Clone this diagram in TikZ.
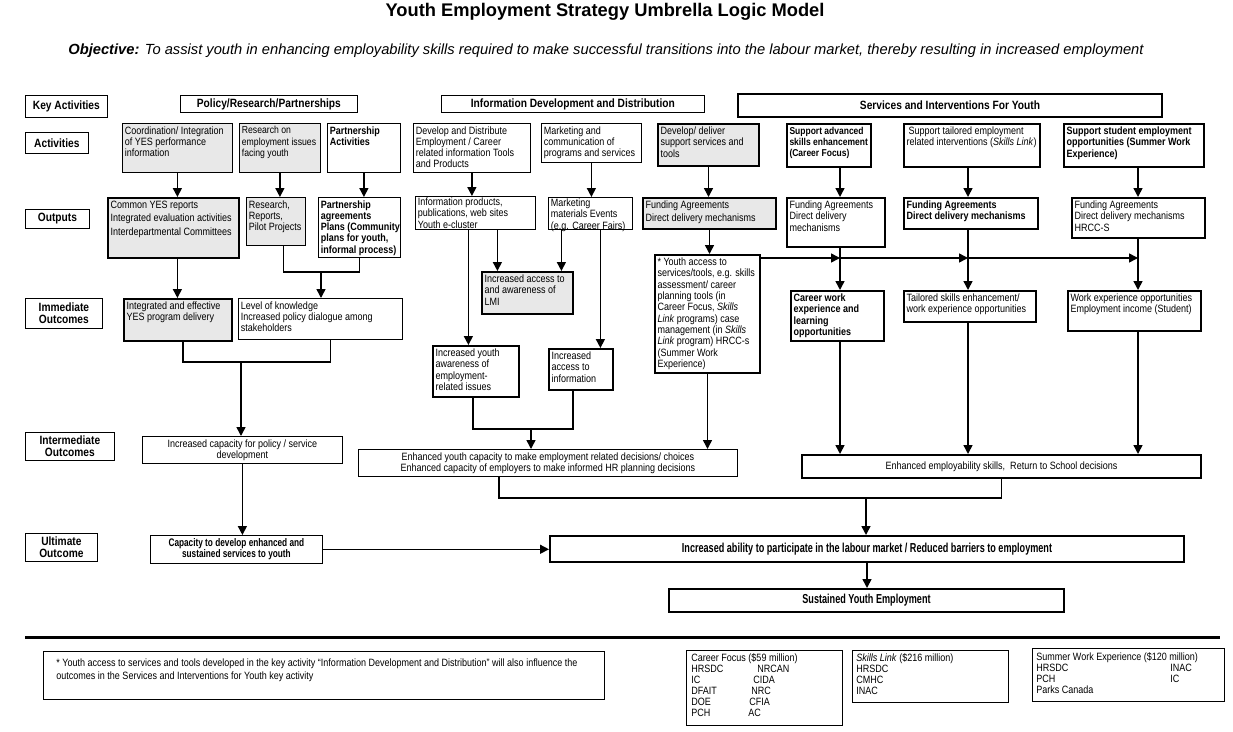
\documentclass[tikz,border=0pt]{standalone}
\usepackage{fontspec}
\setmainfont{Liberation Sans}[FakeStretch=0.85]
\newfontfamily\plainsans{Liberation Sans}
\newfontfamily\narrowsans{Liberation Sans}[FakeStretch=0.7]
\newfontfamily\semisans{Liberation Sans}[FakeStretch=0.75]
\usetikzlibrary{arrows.meta,calc,positioning}
\definecolor{boxgray}{gray}{0.91}

\begin{document}
\begin{tikzpicture}[x=1pt, y=-1pt,
    box/.style={draw, line width=0.8pt, anchor=north west, inner xsep=2.5pt, inner ysep=3pt, font=\fontsize{10.6}{11.3}\selectfont},
    tbox/.style={box, line width=2pt},
    bold/.style={font=\fontsize{10.6}{11.3}\selectfont\bfseries},
    greyfill/.style={fill=boxgray},
    sz/.style 2 args={execute at begin node={\hbox to \dimexpr#1pt-\pgfkeysvalueof{/pgf/inner xsep}*2\relax\bgroup
        \begin{minipage}[t][\dimexpr#2pt-\pgfkeysvalueof{/pgf/inner ysep}*2\relax][t]{\dimexpr#1pt+60pt\relax}\raggedright},
      execute at end node={\endgraf\end{minipage}\hss\egroup}},
    cz/.style 2 args={minimum width=#1pt, minimum height=#2pt, align=center},
    lbl/.style={box, inner sep=1pt, font=\fontsize{12}{12.5}\selectfont\bfseries, align=left},
    hdr/.style={box, inner sep=1pt, font=\fontsize{12}{13}\selectfont\bfseries},
    ln/.style={line width=1.5pt},
    arr/.style={ln, -{Triangle[width=9pt,length=9pt]}}]
  \useasboundingbox (0,0) rectangle (1233,731);

  % title and objective
  \node[font=\plainsans\fontsize{18.3}{20}\selectfont\bfseries] (title) at (605,12) {Youth Employment Strategy Umbrella Logic Model};
  \node[font=\plainsans\fontsize{14.7}{16}\selectfont\itshape] (objective) at (606,51)
    {\textbf{Objective:} To assist youth in enhancing employability skills required to make successful transitions into the labour market, thereby resulting in increased employment};

  % row labels
  \node[lbl, cz={82}{22}] (keyact) at (25,95) {Key Activities};
  \node[lbl, cz={63}{21}] (actlbl) at (25,132) {Activities};
  \node[lbl, cz={64}{19}] (outlbl) at (25,209) {Outputs};
  \node[lbl, cz={77}{30}] (immlbl) at (25,298) {Immediate\\Outcomes};
  \node[lbl, cz={89}{28}] (intlbl) at (25,432) {Intermediate\\Outcomes};
  \node[lbl, cz={72}{28}] (ultlbl) at (25,533) {Ultimate\\Outcome};

  % key activities
  \node[hdr, cz={177}{17}] (hpolicy) at (180,95) {Policy/Research/Partnerships};
  \node[hdr, cz={263}{17}] (hinfo) at (441,95) {Information Development and Distribution};
  \node[hdr, cz={424}{23}, line width=2pt] (hserv) at (737,93) {Services and Interventions For Youth};

  % activities
  \node[box, greyfill, sz={110}{49}] (coord) at (122,123) {Coordination/ Integration\\of YES performance\\information};
  \node[box, greyfill, sz={81}{49}, font=\fontsize{10.2}{11.3}\selectfont] (research) at (239,123) {Research on\\employment issues\\facing youth};
  \node[box, bold, sz={73}{49}] (partner) at (327,123) {Partnership\\Activities};
  \node[box, sz={117}{49}] (devdist) at (413,123) {Develop and Distribute\\Employment / Career\\related information Tools\\and Products};
  \node[box, sz={100}{39}] (marketing) at (541,123) {Marketing and\\communication of\\programs and services};
  \node[tbox, greyfill, sz={101}{42}] (deliver) at (657,123) {Develop/ deliver\\support services and\\tools};
  \node[tbox, sz={84}{43}, font=\fontsize{10}{11.3}\selectfont\bfseries] (careerfoc) at (786,123) {Support advanced\\skills enhancement\\(Career Focus)};
  \node[tbox, sz={136}{43}] (tailored) at (903,123) {\hspace*{2pt}Support tailored employment\\related interventions (\textit{Skills Link})};
  \node[tbox, bold, sz={140}{43}] (student) at (1063,123) {Support student employment\\opportunities (Summer Work\\Experience)};

  % outputs
  \node[tbox, greyfill, sz={131}{60}] (yesrep) at (107,197) {Common YES reports\\[2pt]Integrated evaluation activities\\[2pt]Interdepartmental Committees};
  \node[box, greyfill, sz={59}{48}] (resrep) at (246,197) {Research,\\Reports,\\Pilot Projects};
  \node[box, bold, sz={82}{60}] (partagr) at (318,197) {Partnership\\agreements\\Plans (Community\\plans for youth,\\informal process)};
  \node[box, sz={120}{33}, inner ysep=1.5pt] (infoprod) at (415,196) {Information products,\\publications, web sites\\Youth e-cluster};
  \node[box, sz={84}{32}, inner ysep=1.5pt] (mktmat) at (548,197) {Marketing\\materials Events\\(e.g. Career Fairs)};
  \node[tbox, greyfill, sz={133}{31}] (fund1) at (642,197) {Funding Agreements\\[2pt]Direct delivery mechanisms};
  \node[tbox, sz={98}{49}] (fund2) at (786,197) {Funding Agreements\\Direct delivery\\mechanisms};
  \node[tbox, bold, sz={134}{31}] (fund3) at (903,197) {Funding Agreements\\Direct delivery mechanisms};
  \node[tbox, sz={133}{40}] (fund4) at (1071,197) {Funding Agreements\\Direct delivery mechanisms\\HRCC-S};

  % immediate outcomes
  \node[tbox, greyfill, sz={108}{42}] (integr) at (123,298) {Integrated and effective\\YES program delivery};
  \node[box, sz={164}{41}] (level) at (238,298) {Level of knowledge\\Increased policy dialogue among\\stakeholders};
  \node[tbox, greyfill, sz={91}{42}] (lmi) at (481,271) {Increased access to\\and awareness of\\LMI};
  \node[tbox, sz={86}{51}] (aware) at (432,345) {Increased youth\\awareness of\\employment-\\related issues};
  \node[tbox, sz={64}{41}] (access) at (548,348) {Increased\\access to\\information};
  \node[tbox, sz={105}{118}] (yaccess) at (654,254) {* Youth access to\\services/tools, e.g. skills\\assessment/ career\\planning tools (in\\Career Focus, \textit{Skills}\\\textit{Link} programs) case\\management (in \textit{Skills}\\\textit{Link} program) HRCC-s\\(Summer Work\\Experience)};
  \node[tbox, bold, sz={93}{50}] (careerwk) at (790,290) {Career work\\experience and\\learning\\opportunities};
  \node[tbox, sz={132}{31}] (tailsk) at (903,290) {Tailored skills enhancement/\\work experience opportunities};
  \node[tbox, sz={133}{40}] (workexp) at (1067,290) {Work experience opportunities\\Employment income (Student)};

  % intermediate outcomes
  \node[box, cz={200}{26}] (polint) at (142,436) {Increased capacity for policy / service\\development};
  \node[box, cz={379}{27}] (enhanced) at (358,449) {Enhanced youth capacity to make employment related decisions/ choices\\Enhanced capacity of employers to make informed HR planning decisions};
  \node[tbox, cz={399}{23}] (employ) at (801,454) {Enhanced employability skills,~ Return to School decisions};

  % ultimate outcome
  \node[box, cz={172}{26}, font=\semisans\fontsize{11}{11.5}\selectfont\bfseries] (capacity) at (150,535) {Capacity to develop enhanced and\\sustained services to youth};
  \node[tbox, cz={634}{26}, font=\narrowsans\fontsize{13}{13}\selectfont\bfseries] (ability) at (549,535) {Increased ability to participate in the labour market / Reduced barriers to employment};
  \node[tbox, cz={395}{23}, font=\narrowsans\fontsize{13}{13}\selectfont\bfseries] (sustain) at (668,588) {Sustained Youth Employment};

  % line columns and junctions
  \coordinate (cA) at (840,0);
  \coordinate (cB) at (968,0);
  \coordinate (cC) at (1138,0);
  \coordinate (j1) at (321,272);
  \coordinate (j2) at (241,362);
  \coordinate (j3) at (531,429);
  \coordinate (j4) at (866,498);
  \coordinate (ya) at ([yshift=-4pt]yaccess.north east);
  \coordinate (i1) at ([xshift=-7pt]infoprod.south);
  \coordinate (i2) at ([xshift=22pt]infoprod.south);
  \coordinate (m1) at ([xshift=-29pt]mktmat.south);
  \coordinate (m2) at ([xshift=10pt]mktmat.south);

  % activities to outputs
  \draw[arr] (coord.south) -- (coord.south |- yesrep.north);
  \draw[arr] (research.south) -- (research.south |- resrep.north);
  \draw[arr] (partner.south) -- (partner.south |- partagr.north);
  \draw[arr] (devdist.south) -- (devdist.south |- infoprod.north);
  \draw[arr] (marketing.south) -- (marketing.south |- mktmat.north);
  \draw[arr] (deliver.south) -- (deliver.south |- fund1.north);
  \draw[arr] (cA |- careerfoc.south) -- (cA |- fund2.north);
  \draw[arr] (cB |- tailored.south) -- (cB |- fund3.north);
  \draw[arr] (cC |- student.south) -- (cC |- fund4.north);

  % policy column
  \draw[arr] (coord.south |- yesrep.south) -- (coord.south |- integr.north);
  \draw[ln] ($(resrep.south west)!0.63!(resrep.south east)$) |- (j1) -| (partagr.south);
  \draw[arr] (j1) -- (j1 |- level.north);
  \draw[ln] ([xshift=5pt]integr.south) |- (j2) -| ([xshift=10pt]level.south);
  \draw[arr] (j2) -- (j2 |- polint.north);
  \draw[arr] (polint.south) -- (polint.south |- capacity.north);
  \draw[arr] (capacity.east) -- (capacity.east -| ability.west);

  % information column
  \draw[arr] (i1) -- (i1 |- aware.north);
  \draw[arr] (i2) -- (i2 |- lmi.north);
  \draw[arr] (m1) -- (m1 |- lmi.north);
  \draw[arr] (m2) -- (m2 |- access.north);
  \draw[ln] ([xshift=-3pt]aware.south) |- (j3) -| ([xshift=-8pt]access.south);
  \draw[arr] (j3) -- (j3 |- enhanced.north);
  \draw[arr] (fund1.south) -- (fund1.south |- yaccess.north);
  \draw[arr] (yaccess.south) -- (yaccess.south |- enhanced.north);

  % services column
  \draw[arr] (ya) -- (ya -| cA);
  \draw[arr] (ya -| cA) -- (ya -| cB);
  \draw[arr] (ya -| cB) -- (ya -| cC);
  \draw[arr] (cA |- fund2.south) -- (cA |- careerwk.north);
  \draw[arr] (cB |- fund3.south) -- (cB |- tailsk.north);
  \draw[arr] (cC |- fund4.south) -- (cC |- workexp.north);
  \draw[arr] (cA |- careerwk.south) -- (cA |- employ.north);
  \draw[arr] (cB |- tailsk.south) -- (cB |- employ.north);
  \draw[arr] (cC |- workexp.south) -- (cC |- employ.north);

  % to the ultimate outcome
  \draw[ln] ([xshift=-49pt]enhanced.south) |- (j4) -| (employ.south);
  \draw[arr] (j4) -- (j4 |- ability.north);
  \draw[arr] (ability.south) -- (ability.south |- sustain.north);

  % separator and notes
  \draw[line width=3pt] (25,637) -- (1220,637);
  \node[box, sz={561}{48}, inner xsep=13pt, inner ysep=7pt, font=\fontsize{10.6}{13.5}\selectfont] (note) at (43,651)
    {* Youth access to services and tools developed in the key activity “Information Development and Distribution” will also influence the\\outcomes in the Services and Interventions for Youth key activity};
  \node[box, sz={156}{75}, inner xsep=5pt, inner ysep=3pt, font=\fontsize{10.6}{11}\selectfont] (cfocus) at (686,650)
    {Career Focus (\$59 million)\\\makebox[66pt][l]{HRSDC}NRCAN\\\makebox[62pt][l]{IC}CIDA\\\makebox[60pt][l]{DFAIT}NRC\\\makebox[58pt][l]{DOE}CFIA\\\makebox[57pt][l]{PCH}AC};
  \node[box, sz={156}{52}, inner xsep=4pt, inner ysep=3pt, font=\fontsize{10.6}{11}\selectfont] (slink) at (852,650)
    {\textit{Skills Link} (\$216 million)\\HRSDC\\CMHC\\INAC};
  \node[box, sz={192}{53}, inner xsep=4pt, inner ysep=4pt, font=\fontsize{10.6}{11}\selectfont] (swork) at (1032,648)
    {Summer Work Experience (\$120 million)\\\makebox[134pt][l]{HRSDC}INAC\\\makebox[134pt][l]{PCH}IC\\Parks Canada};
\end{tikzpicture}
\end{document}
